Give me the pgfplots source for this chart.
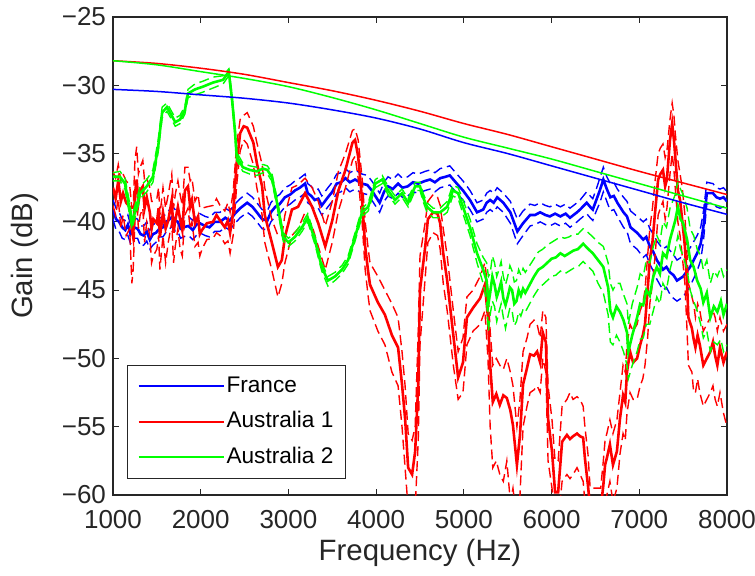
\documentclass[border=0pt]{standalone}
\usepackage{pgfplots}
\usepackage{pgfplotstable}
\usepackage{fontspec}
\setmainfont{Liberation Sans}
\pgfplotsset{compat=1.18}
\definecolor{mb}{RGB}{0,0,255}
\definecolor{mr}{RGB}{255,0,0}
\definecolor{mg}{RGB}{0,255,0}

\pgfplotstableread{
f m lo hi
1000 -39.1 -39.8 -38.4
1035 -39.8 -40.6 -39.0
1070 -40.0 -40.7 -39.3
1105 -40.4 -41.2 -39.8
1140 -40.6 -41.3 -39.9
1170 -40.2 -41.0 -39.5
1200 -40.9 -41.6 -40.2
1240 -40.4 -41.2 -39.7
1280 -40.5 -41.2 -39.8
1315 -40.9 -41.8 -40.3
1350 -41.0 -41.7 -40.3
1385 -40.7 -41.4 -40.0
1420 -41.3 -42.0 -40.6
1455 -40.9 -41.7 -40.2
1490 -40.8 -41.5 -40.1
1530 -40.5 -41.1 -39.7
1570 -40.4 -41.1 -39.7
1600 -40.0 -40.8 -39.4
1630 -39.9 -40.6 -39.2
1680 -39.6 -40.3 -38.9
1710 -39.9 -40.7 -39.1
1740 -40.0 -40.7 -39.3
1770 -40.5 -41.2 -39.8
1800 -40.4 -41.1 -39.7
1860 -40.3 -41.0 -39.6
1910 -40.6 -41.3 -39.9
1950 -40.2 -41.0 -39.5
1990 -40.1 -40.8 -39.4
2050 -40.3 -41.0 -39.6
2100 -40.4 -41.1 -39.7
2160 -40.0 -40.7 -39.3
2220 -40.0 -40.7 -39.3
2280 -39.7 -40.4 -39.0
2330 -39.9 -40.6 -39.2
2390 -39.4 -40.1 -38.7
2450 -39.0 -39.7 -38.3
2530 -38.6 -39.3 -37.9
2590 -38.9 -39.6 -38.2
2640 -39.3 -40.0 -38.6
2700 -39.8 -40.5 -39.1
2760 -39.9 -40.6 -39.2
2800 -39.3 -40.0 -38.6
2850 -38.9 -39.6 -38.2
2900 -38.7 -39.4 -38.0
2960 -38.2 -38.9 -37.5
3020 -38.0 -38.7 -37.3
3075 -37.7 -38.4 -37.0
3130 -37.5 -38.2 -36.8
3190 -37.2 -37.9 -36.5
3220 -37.9 -38.6 -37.2
3260 -38.1 -38.8 -37.4
3300 -38.4 -39.1 -37.7
3340 -38.3 -39.0 -37.6
3380 -38.8 -39.5 -38.1
3450 -38.2 -38.9 -37.5
3500 -37.8 -38.5 -37.1
3550 -37.2 -37.9 -36.5
3600 -37.1 -37.8 -36.4
3650 -36.8 -37.5 -36.1
3700 -37.1 -37.8 -36.4
3760 -36.9 -37.6 -36.2
3840 -37.2 -37.9 -36.5
3900 -37.3 -38.0 -36.6
3950 -37.7 -38.4 -37.0
4000 -38.2 -38.9 -37.5
4040 -38.6 -39.3 -37.9
4090 -37.8 -38.5 -37.1
4135 -37.4 -38.1 -36.7
4190 -37.6 -38.3 -36.9
4250 -37.2 -37.9 -36.5
4300 -37.5 -38.2 -36.8
4360 -37.4 -38.1 -36.7
4420 -37.1 -37.8 -36.4
4480 -37.2 -37.9 -36.5
4560 -37.0 -37.7 -36.3
4615 -36.9 -37.6 -36.2
4670 -37.1 -37.8 -36.4
4730 -36.8 -37.5 -36.1
4790 -36.7 -37.4 -36.0
4840 -36.6 -37.3 -35.9
4920 -37.2 -37.9 -36.5
4990 -37.7 -38.4 -37.0
5070 -38.4 -39.1 -37.7
5150 -39.3 -40.0 -38.6
5220 -39.1 -39.8 -38.4
5260 -38.6 -39.3 -37.9
5300 -38.4 -39.1 -37.7
5340 -38.6 -39.3 -37.9
5380 -38.2 -38.9 -37.5
5450 -38.6 -39.3 -37.9
5530 -39.3 -40.1 -38.5
5610 -40.7 -41.6 -39.8
5675 -40.1 -41.0 -39.2
5755 -39.5 -40.3 -38.7
5810 -39.5 -40.2 -38.8
5870 -39.3 -40.0 -38.6
5930 -39.5 -40.2 -38.8
5980 -39.6 -40.3 -38.9
6040 -39.4 -40.1 -38.7
6100 -39.6 -40.3 -38.9
6160 -39.4 -40.1 -38.7
6210 -39.7 -40.4 -39.0
6290 -39.3 -40.0 -38.6
6325 -39.1 -39.8 -38.4
6400 -38.6 -39.4 -37.8
6440 -38.9 -39.7 -38.1
6470 -39.1 -39.9 -38.3
6510 -38.4 -39.2 -37.6
6550 -37.7 -38.6 -36.8
6590 -36.9 -37.8 -36.0
6630 -37.6 -38.5 -36.7
6670 -38.2 -39.2 -37.2
6710 -38.1 -39.1 -37.1
6750 -38.6 -39.6 -37.6
6820 -39.3 -40.4 -38.2
6860 -39.6 -40.7 -38.5
6900 -40.4 -41.6 -39.2
6975 -40.8 -42.0 -39.6
7045 -41.3 -42.6 -40.0
7080 -41.1 -42.4 -39.8
7120 -41.8 -43.1 -40.5
7160 -42.2 -43.6 -40.9
7200 -42.8 -44.2 -41.4
7270 -43.5 -45.0 -42.0
7310 -43.3 -44.8 -41.8
7350 -43.7 -45.3 -42.1
7390 -43.9 -45.6 -42.4
7430 -44.3 -45.8 -42.8
7500 -44.0 -45.5 -42.5
7580 -43.3 -44.7 -41.9
7660 -42.3 -43.6 -41.0
7700 -41.6 -42.8 -40.4
7730 -40.4 -41.5 -39.3
7770 -37.9 -38.7 -37.1
7840 -37.9 -38.6 -37.2
7880 -38.2 -38.9 -37.5
7920 -38.3 -39.0 -37.6
7960 -38.2 -38.9 -37.5
8000 -38.5 -39.2 -37.8
}\tblue

\pgfplotstableread{
f m lo hi
1000 -37.5 -38.8 -36.3
1030 -38.3 -39.5 -36.8
1060 -37.0 -38.3 -35.8
1090 -38.5 -40.5 -37.0
1115 -37.9 -39.5 -36.5
1150 -38.6 -41.0 -37.0
1190 -38.9 -40.5 -37.3
1215 -40.5 -44.5 -39.0
1230 -41.1 -43.5 -39.0
1250 -38.0 -40.0 -35.5
1270 -36.9 -38.5 -34.5
1290 -38.6 -40.5 -36.5
1310 -37.7 -39.5 -36.0
1340 -37.4 -39.0 -35.5
1360 -39.0 -41.5 -37.0
1385 -38.2 -40.0 -36.8
1420 -39.3 -41.0 -37.5
1440 -40.5 -43.0 -38.5
1460 -39.8 -42.5 -38.5
1500 -40.1 -42.0 -38.3
1520 -39.0 -41.0 -37.5
1535 -41.1 -43.5 -39.5
1570 -39.3 -41.0 -37.5
1600 -40.5 -43.0 -39.0
1630 -39.9 -41.5 -38.0
1670 -38.4 -40.0 -36.5
1690 -40.8 -43.0 -39.0
1710 -39.9 -41.8 -38.0
1740 -38.9 -40.5 -37.0
1765 -39.8 -42.0 -38.0
1790 -40.6 -42.5 -38.8
1820 -37.7 -39.5 -36.0
1855 -37.4 -39.0 -36.0
1880 -38.9 -40.5 -37.0
1900 -38.4 -40.0 -36.8
1935 -40.1 -41.8 -38.5
1970 -39.6 -41.5 -38.0
1990 -40.9 -42.5 -39.0
2015 -40.6 -42.0 -39.0
2070 -40.1 -41.3 -38.9
2140 -40.0 -41.2 -38.8
2180 -39.5 -40.8 -38.3
2220 -39.9 -41.0 -38.8
2275 -40.4 -41.6 -39.2
2310 -39.9 -41.4 -38.6
2335 -40.8 -42.3 -39.3
2370 -39.3 -41.0 -37.8
2410 -35.7 -37.3 -34.3
2450 -33.5 -34.8 -32.5
2490 -33.0 -34.0 -32.2
2530 -33.1 -34.3 -32.0
2600 -34.2 -35.8 -33.0
2640 -35.7 -37.5 -34.2
2700 -37.4 -39.5 -35.8
2730 -39.5 -41.5 -37.5
2810 -41.5 -43.5 -39.8
2880 -43.3 -45.5 -41.0
2925 -42.8 -44.5 -41.0
2960 -41.1 -43.0 -39.5
3040 -39.1 -41.0 -37.5
3110 -38.9 -40.5 -37.3
3190 -37.9 -39.3 -36.8
3270 -38.9 -40.3 -37.5
3340 -40.1 -41.8 -38.5
3420 -41.8 -43.5 -40.3
3500 -39.9 -41.5 -38.5
3570 -37.7 -39.2 -36.3
3650 -36.2 -37.5 -35.0
3730 -34.2 -35.5 -33.3
3760 -34.0 -35.2 -33.2
3795 -35.2 -36.8 -34.0
3840 -38.4 -40.0 -36.8
3875 -41.8 -43.5 -40.0
3910 -43.7 -45.5 -42.0
3930 -44.6 -46.5 -43.0
4020 -45.9 -48.0 -44.0
4100 -46.8 -49.0 -45.0
4180 -48.3 -51.0 -46.0
4250 -49.2 -52.0 -47.0
4295 -51.9 -55.0 -49.5
4330 -54.4 -58.0 -52.0
4365 -58.0 -61.0 -55.5
4410 -58.5 -62.0 -56.0
4445 -56.8 -61.0 -55.0
4480 -51.9 -56.0 -48.0
4500 -45.0 -49.0 -42.5
4560 -41.8 -44.0 -40.0
4590 -39.8 -41.5 -38.5
4650 -39.3 -40.8 -38.0
4700 -39.4 -41.0 -38.2
4730 -40.1 -42.0 -38.8
4765 -42.3 -44.5 -40.5
4810 -44.3 -46.5 -42.5
4880 -48.3 -50.5 -46.5
4935 -51.4 -53.0 -49.5
4990 -50.3 -52.5 -48.5
5035 -47.0 -49.0 -45.5
5105 -46.3 -48.0 -45.0
5185 -45.6 -47.5 -44.0
5240 -44.6 -46.5 -43.0
5275 -47.0 -50.0 -45.0
5300 -50.5 -55.0 -48.0
5330 -53.2 -58.0 -50.5
5370 -52.6 -57.5 -50.0
5410 -53.4 -58.5 -50.5
5450 -52.7 -59.0 -50.8
5490 -52.9 -57.5 -50.0
5530 -53.8 -60.5 -51.0
5560 -54.9 -59.5 -52.0
5605 -57.8 -62.0 -55.0
5640 -55.6 -60.0 -53.0
5675 -51.9 -55.0 -49.5
5720 -50.7 -53.5 -48.5
5755 -49.7 -52.5 -47.5
5800 -49.8 -52.3 -47.2
5835 -49.5 -52.0 -47.5
5870 -50.3 -52.5 -48.5
5900 -48.1 -50.0 -46.5
5935 -48.8 -51.0 -47.0
5960 -54.4 -57.5 -52.0
6005 -56.8 -59.5 -54.5
6040 -59.8 -62.0 -57.5
6075 -59.8 -62.0 -57.5
6120 -56.1 -59.0 -53.5
6175 -55.6 -58.5 -53.0
6210 -55.9 -58.8 -52.5
6245 -55.7 -58.5 -53.0
6290 -55.5 -58.0 -52.8
6325 -55.7 -58.5 -53.0
6360 -55.8 -59.0 -53.5
6380 -57.3 -60.5 -55.0
6415 -59.3 -62.0 -57.0
6440 -61.0 -63.0 -59.5
6560 -61.0 -63.0 -59.5
6590 -59.3 -61.5 -57.5
6610 -57.8 -60.8 -56.0
6630 -57.3 -60.0 -55.5
6665 -56.3 -59.0 -54.5
6700 -57.8 -60.5 -55.5
6745 -56.8 -59.5 -54.5
6780 -54.4 -57.0 -52.5
6815 -52.7 -55.5 -50.5
6840 -53.2 -56.0 -51.0
6860 -51.0 -54.0 -49.0
6895 -49.5 -52.5 -47.5
6930 -50.3 -53.0 -48.0
6975 -50.0 -53.0 -47.5
7010 -49.0 -52.0 -46.5
7040 -48.3 -51.5 -46.0
7065 -47.5 -50.5 -45.0
7095 -45.0 -48.5 -42.5
7120 -42.8 -46.0 -40.5
7150 -41.5 -44.5 -39.0
7180 -39.3 -42.5 -37.0
7215 -36.9 -39.5 -35.0
7240 -36.5 -39.0 -34.6
7270 -36.2 -38.5 -34.3
7295 -37.4 -39.8 -35.3
7315 -36.9 -39.0 -34.8
7350 -34.0 -36.5 -32.5
7375 -32.8 -35.0 -31.3
7395 -34.0 -36.2 -32.2
7410 -35.2 -37.5 -33.5
7440 -37.7 -40.0 -35.5
7465 -38.4 -41.0 -36.5
7490 -39.9 -42.5 -37.5
7520 -41.8 -44.5 -39.5
7545 -44.6 -48.0 -42.5
7560 -47.0 -50.5 -44.5
7600 -47.8 -51.0 -45.5
7620 -48.6 -52.5 -46.0
7640 -49.2 -52.5 -47.0
7665 -48.3 -51.5 -46.0
7690 -49.0 -52.5 -46.5
7730 -50.5 -53.5 -48.0
7770 -50.0 -53.0 -47.5
7810 -49.5 -52.5 -47.0
7840 -48.8 -52.0 -46.5
7865 -49.8 -53.0 -47.0
7890 -50.5 -53.5 -48.0
7920 -49.2 -52.5 -47.0
7960 -50.3 -54.0 -48.0
8000 -49.5 -55.0 -47.5
}\tred

\pgfplotstableread{
f m lo hi
1000 -36.7 -37.0 -36.4
1080 -36.7 -37.0 -36.3
1137 -37.2 -37.6 -36.8
1195 -39.3 -39.7 -38.8
1215 -40.1 -40.5 -39.6
1250 -39.3 -39.7 -38.8
1310 -37.9 -38.3 -37.4
1385 -37.4 -37.8 -36.9
1455 -36.7 -37.1 -36.2
1515 -34.5 -34.9 -34.0
1560 -32.0 -32.4 -31.6
1615 -31.6 -31.9 -31.3
1650 -32.0 -32.3 -31.7
1710 -32.7 -33.0 -32.4
1765 -32.5 -32.8 -32.2
1820 -31.8 -32.1 -31.5
1855 -30.6 -30.9 -30.3
1935 -30.3 -30.7 -29.9
2025 -30.1 -30.5 -29.7
2140 -29.8 -30.2 -29.4
2255 -29.6 -29.9 -29.3
2320 -29.0 -29.3 -28.8
2355 -30.9 -31.2 -30.6
2390 -33.3 -33.6 -33.0
2410 -35.2 -35.5 -34.9
2480 -36.0 -36.3 -35.7
2560 -36.2 -36.5 -35.9
2640 -36.3 -36.6 -36.0
2710 -36.1 -36.4 -35.8
2760 -36.2 -36.5 -35.9
2810 -36.7 -37.0 -36.4
2880 -38.9 -39.2 -38.6
2940 -41.1 -41.4 -40.8
3000 -41.5 -41.8 -41.2
3075 -41.1 -41.4 -40.8
3155 -40.4 -40.7 -40.1
3220 -39.7 -40.0 -39.4
3300 -41.3 -41.6 -41.0
3380 -43.3 -43.6 -43.0
3450 -44.3 -44.7 -44.0
3530 -44.0 -44.3 -43.7
3610 -43.5 -43.8 -43.2
3680 -42.8 -43.1 -42.5
3760 -41.1 -41.4 -40.8
3840 -39.3 -39.6 -39.0
3910 -38.9 -39.2 -38.6
3990 -37.2 -37.5 -36.9
4070 -36.9 -37.2 -36.6
4135 -37.7 -38.0 -37.4
4215 -38.4 -38.7 -38.1
4295 -37.9 -38.2 -37.6
4365 -38.6 -38.9 -38.3
4445 -37.4 -37.7 -37.1
4500 -37.4 -37.7 -37.1
4535 -38.2 -38.5 -37.9
4580 -38.9 -39.3 -38.6
4650 -39.3 -39.7 -39.0
4730 -39.3 -39.7 -39.0
4810 -38.9 -39.3 -38.5
4875 -37.7 -38.1 -37.3
4935 -37.9 -38.3 -37.5
4990 -38.9 -39.4 -38.4
5070 -40.4 -41.0 -39.8
5150 -42.3 -43.0 -41.6
5220 -43.5 -44.5 -42.6
5260 -44.3 -45.8 -43.0
5280 -46.0 -48.0 -44.0
5300 -45.2 -46.8 -43.8
5325 -44.0 -45.8 -42.5
5350 -44.6 -46.2 -43.0
5375 -45.5 -47.3 -44.0
5400 -45.0 -46.6 -43.5
5425 -44.4 -46.0 -42.9
5450 -45.6 -47.0 -44.0
5475 -46.1 -47.8 -44.6
5500 -45.5 -47.0 -44.0
5525 -44.8 -46.3 -43.2
5550 -45.0 -46.5 -43.6
5575 -46.0 -47.6 -44.4
5600 -45.8 -47.3 -44.3
5625 -45.0 -46.6 -43.5
5650 -45.4 -46.9 -43.9
5675 -44.9 -46.4 -43.4
5700 -45.2 -46.6 -43.7
5750 -44.6 -46.0 -43.2
5800 -44.0 -45.4 -42.7
5850 -43.5 -44.9 -42.2
5900 -43.3 -44.6 -42.0
5950 -43.0 -44.3 -41.7
6000 -42.7 -44.0 -41.5
6050 -42.6 -43.9 -41.3
6100 -42.3 -43.6 -41.1
6150 -42.5 -43.8 -41.2
6200 -42.3 -43.6 -41.1
6250 -42.1 -43.4 -40.9
6300 -42.0 -43.3 -40.9
6360 -41.6 -42.9 -40.5
6420 -42.0 -43.3 -40.8
6470 -42.3 -43.6 -41.1
6530 -42.8 -44.5 -41.5
6590 -43.3 -45.2 -41.8
6645 -44.8 -46.8 -43.0
6670 -46.5 -48.8 -44.5
6700 -47.0 -49.0 -45.0
6740 -46.2 -48.3 -44.5
6780 -46.6 -48.8 -44.5
6820 -47.2 -49.5 -45.3
6860 -48.1 -50.5 -46.0
6875 -49.5 -51.5 -47.5
6920 -48.3 -50.5 -46.0
6975 -47.0 -49.5 -44.8
7010 -46.0 -48.6 -43.8
7045 -46.1 -48.5 -44.0
7080 -45.0 -47.5 -42.8
7120 -45.4 -47.5 -43.0
7160 -44.0 -46.5 -41.8
7200 -43.3 -45.5 -41.0
7235 -43.8 -46.0 -41.5
7270 -42.3 -44.5 -40.0
7310 -42.6 -45.0 -40.4
7350 -41.3 -43.5 -39.0
7410 -39.9 -42.0 -38.0
7440 -38.9 -41.0 -37.0
7470 -39.8 -42.0 -37.6
7500 -40.1 -42.5 -38.0
7545 -41.3 -43.5 -39.0
7580 -42.8 -45.0 -40.5
7620 -43.3 -45.8 -41.0
7660 -44.3 -46.5 -42.0
7700 -44.9 -47.5 -42.5
7730 -45.9 -48.5 -43.5
7770 -45.2 -48.0 -42.8
7810 -47.0 -49.5 -44.5
7850 -46.2 -48.8 -43.6
7890 -46.6 -49.0 -44.0
7930 -45.8 -48.6 -43.3
7960 -46.8 -49.5 -44.0
8000 -46.0 -49.0 -43.5
}\tgreen

\begin{document}
\begin{tikzpicture}
\useasboundingbox (-56.5pt,-40pt) rectangle (321pt,247.5pt);
\begin{axis}[
  at={(0pt,0pt)}, anchor=south west,
  scale only axis, width=307pt, height=239pt,
  xmin=1000, xmax=8000, ymin=-60, ymax=-25,
  xtick={1000,2000,3000,4000,5000,6000,7000,8000},
  xticklabels={1000,2000,3000,4000,5000,6000,7000,8000},
  ytick={-60,-55,-50,-45,-40,-35,-30,-25},
  yticklabels={−60,−55,−50,−45,−40,−35,−30,−25},
  tick align=inside, major tick length=3pt,
  axis line style={black!85, line width=0.6pt},
  tick style={black!85, line width=0.6pt},
  ticklabel style={font=\fontsize{13}{15}\selectfont, text=black!85},
  xticklabel style={yshift=-4pt},
  label style={font=\fontsize{14.7}{17}\selectfont, text=black!85},
  xlabel={Frequency (Hz)},
  ylabel={Gain (dB)},
  xlabel style={at={(axis description cs:0.5,0)}, anchor=center, yshift=-29pt},
  ylabel style={at={(axis description cs:0,0.5)}, anchor=center, rotate=0, yshift=44pt},
  legend style={at={(0.0228,0.0335)}, anchor=south west,
    draw=black!85, line width=0.6pt, fill=white,
    inner xsep=5pt, inner ysep=4pt,
    font=\fontsize{11.3}{13}\selectfont,
    nodes={inner sep=1pt, text height=8.5pt, text depth=2.5pt},
    row sep=4.8pt, cells={anchor=west},
    /tikz/every even column/.append style={column sep=4pt}},
  legend image code/.code={\draw[#1] (0pt,0pt) -- (42.5pt,0pt);},
]
% France
\addplot[mb, line width=0.7pt, dash pattern=on 5pt off 2.5pt, forget plot] table[x=f,y=lo]{\tblue};
\addplot[mb, line width=0.7pt, dash pattern=on 5pt off 2.5pt, forget plot] table[x=f,y=hi]{\tblue};
\addplot[mb, line width=1.3pt, forget plot] table[x=f,y=m]{\tblue};
% Australia 1
\addplot[mr, line width=0.7pt, dash pattern=on 5pt off 2.5pt, forget plot] table[x=f,y=lo]{\tred};
\addplot[mr, line width=0.7pt, dash pattern=on 5pt off 2.5pt, forget plot] table[x=f,y=hi]{\tred};
\addplot[mr, line width=1.3pt, forget plot] table[x=f,y=m]{\tred};
% Australia 2
\addplot[mg, line width=0.7pt, dash pattern=on 5pt off 2.5pt, forget plot] table[x=f,y=lo]{\tgreen};
\addplot[mg, line width=0.7pt, dash pattern=on 5pt off 2.5pt, forget plot] table[x=f,y=hi]{\tgreen};
\addplot[mg, line width=1.3pt, forget plot] table[x=f,y=m]{\tgreen};
% smooth model curves
\addplot[mb, line width=0.75pt, smooth, forget plot] coordinates {(1000,-30.3)(1500,-30.45)(2000,-30.7)(2500,-30.95)(3000,-31.3)(3500,-31.8)(4000,-32.4)(4500,-33.2)(5000,-34.2)(5500,-35.0)(6000,-35.9)(6500,-36.8)(7000,-37.7)(7500,-38.6)(8000,-39.45)};
\addplot[mr, line width=0.75pt, smooth, forget plot] coordinates {(1000,-28.2)(1500,-28.4)(2000,-28.75)(2500,-29.2)(3000,-29.8)(3500,-30.4)(4000,-31.1)(4500,-31.9)(5000,-32.8)(5500,-33.6)(6000,-34.5)(6500,-35.4)(7000,-36.3)(7500,-37.15)(8000,-38.0)};
\addplot[mg, line width=0.75pt, smooth, forget plot] coordinates {(1000,-28.2)(1500,-28.5)(2000,-29.0)(2500,-29.5)(3000,-30.1)(3500,-30.9)(4000,-31.8)(4500,-32.8)(5000,-33.8)(5500,-34.6)(6000,-35.4)(6500,-36.3)(7000,-37.2)(7500,-38.1)(8000,-39.0)};
\addlegendimage{mb, line width=1pt}
\addlegendentry{France}
\addlegendimage{mr, line width=1pt}
\addlegendentry{Australia 1}
\addlegendimage{mg, line width=1pt}
\addlegendentry{Australia 2}
\end{axis}
\end{tikzpicture}
\end{document}
